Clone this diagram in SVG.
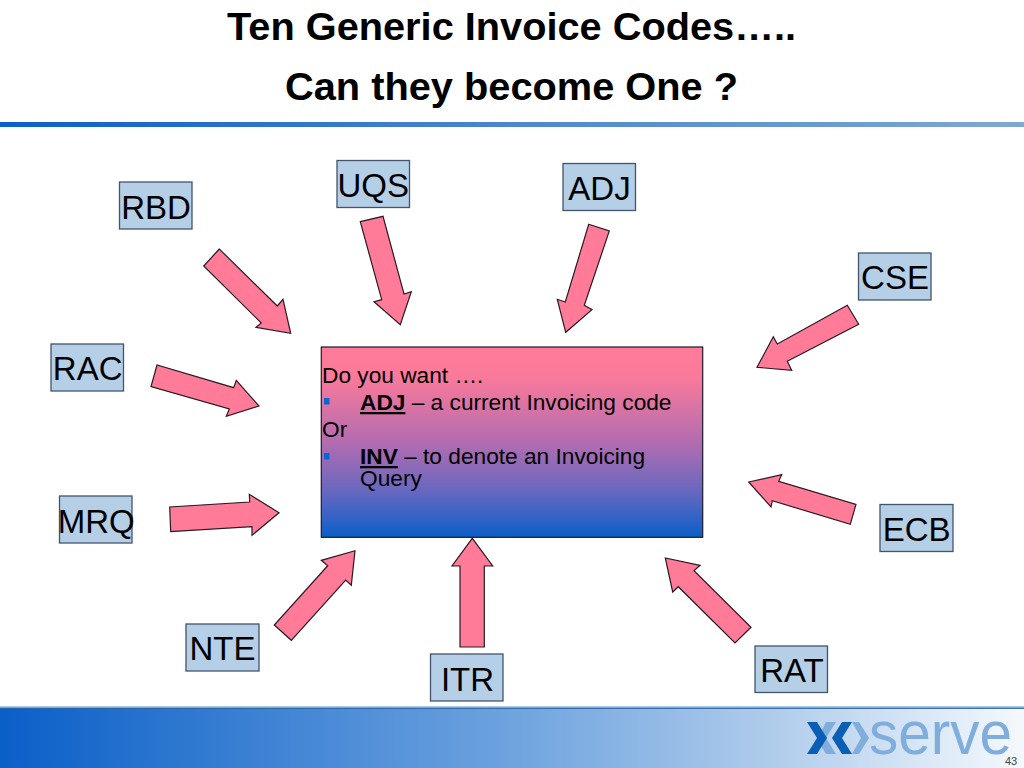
<svg xmlns="http://www.w3.org/2000/svg" width="1024" height="768" viewBox="0 0 1024 768">
<style>
text{font-family:"Liberation Sans",Arial,sans-serif;fill:#000}
.t{font-size:39px;font-weight:bold}
.b rect{fill:#b5cfe6;stroke:#44546a;stroke-width:1.3}
.b text{font-size:33px;text-anchor:middle}
.a polygon{fill:#ff7b98;stroke:#2a1a22;stroke-width:1.2;stroke-linejoin:miter}
.m{font-size:22.7px}
.bu{fill:#0a66d0}
.ld{fill:#0a5fb4}
.ll{fill:#80aedc}
</style>
<defs>
<linearGradient id="rule" x1="0" x2="1" y1="0" y2="0"><stop offset="0" stop-color="#0a5fc8"/><stop offset="0.5" stop-color="#4d87cc"/><stop offset="1" stop-color="#7fa9cf"/></linearGradient>
<linearGradient id="foot" x1="0" x2="1" y1="0" y2="0"><stop offset="0" stop-color="#0a5fc8"/><stop offset="0.5" stop-color="#6ea3df"/><stop offset="0.75" stop-color="#aecbeb"/><stop offset="1" stop-color="#f5f9fd"/></linearGradient>
<linearGradient id="core" x1="0" x2="0" y1="0" y2="1"><stop offset="0" stop-color="#ff7b98"/><stop offset="0.15" stop-color="#fb7a9a"/><stop offset="0.5" stop-color="#b36cb0"/><stop offset="0.75" stop-color="#6a68c0"/><stop offset="1" stop-color="#0a5fc8"/></linearGradient>
</defs>
<rect width="1024" height="768" fill="#fff"/>
<g id="title">
<text class="t" x="227" y="40" textLength="569" lengthAdjust="spacingAndGlyphs">Ten Generic Invoice Codes…..</text>
<text class="t" x="285" y="100" textLength="453" lengthAdjust="spacingAndGlyphs">Can they become One ?</text>
</g>
<rect id="title-rule" x="0" y="122" width="1024" height="5" fill="url(#rule)"/>
<g id="footer">
<rect x="0" y="706" width="1024" height="2" fill="#a9c9ea"/>
<rect x="0" y="708" width="1024" height="60" fill="url(#foot)"/>
<rect x="0" y="707.7" width="1024" height="1.2" fill="#2f659f"/>
<polygon class="ll" points="826,722 836,722 826,738 836,754 826,754 821,746 822,730"/>
<polygon class="ld" points="807,722 817,722 827,738 817,754 807,754 817,738"/>
<polygon class="ld" points="842,722 852,722 842,738 852,754 842,754 832,738"/>
<polygon class="ll" points="852,722 859,722 869,738 859,754 852,754 861,738"/>
<text id="logo-word" x="869" y="754" font-size="61" textLength="143" lengthAdjust="spacingAndGlyphs" style="fill:#80aedc">serve</text>
<text x="1005" y="765" font-size="11" style="fill:#444">43</text>
</g>
<g id="connectors" class="a">
<polygon points="219.3,249 203.7,266 261.3,323 256,327.3 290.7,333.3 283,299.3 277.3,306"/>
<polygon points="360.3,221.7 383,216.3 404,294 411.3,291.7 400.3,324.7 374,301.7 381.7,299.7"/>
<polygon points="588.7,224.3 609.3,231 584.3,305.3 592,309.7 565.7,332.3 557.3,299.3 565.3,302"/>
<polygon points="847.3,305.3 858.7,324.3 787.3,361.3 791.7,370.3 757,367.3 773.3,336.7 777.3,344"/>
<polygon points="157,365 151,386.7 229.3,409 226.3,416.3 259,406 236.3,380.3 233.7,387.7"/>
<polygon points="169.7,507 170.7,531.7 252,526.7 252,535.3 279,512.7 249.3,494.3 249.7,502"/>
<polygon points="274.3,625 291.3,640.3 345.7,580 351.3,585.3 355,550.7 321.3,560.3 327.7,565.7"/>
<polygon points="460,647 484.3,647 484.3,566 492.7,566 472.3,538.3 452,566 460,566"/>
<polygon points="856,504.3 850.3,524.3 772.3,500.7 771,507 748.7,482 781.7,474.7 778.7,481.3"/>
<polygon points="751,627.3 735,643 678.3,586.7 672.7,592 665.3,558 700,565.3 694,570.7"/>
</g>
<g id="node-core">
<rect x="321.3" y="347" width="381.4" height="190.3" fill="url(#core)" stroke="#1a1a2a" stroke-width="1.2"/>
<text class="m" x="322" y="383">Do you want ….</text>
<rect class="bu" x="324" y="398" width="5.5" height="6.5"/>
<text class="m" x="360" y="410"><tspan font-weight="bold" text-decoration="underline">ADJ</tspan> – a current Invoicing code</text>
<text class="m" x="322" y="437">Or</text>
<rect class="bu" x="324" y="453" width="5.5" height="6.5"/>
<text class="m" x="360" y="464"><tspan font-weight="bold" text-decoration="underline">INV</tspan> – to denote an Invoicing</text>
<text class="m" x="360" y="486">Query</text>
</g>
<g id="node-rbd" class="b"><rect x="119.5" y="182" width="72.5" height="47"/><text x="156" y="218.5">RBD</text></g>
<g id="node-uqs" class="b"><rect x="337" y="160.5" width="72.5" height="47"/><text x="373.3" y="196.7">UQS</text></g>
<g id="node-adj" class="b"><rect x="563" y="163.5" width="72.5" height="47"/><text x="599.5" y="199.5">ADJ</text></g>
<g id="node-cse" class="b"><rect x="858.5" y="253" width="72.5" height="47"/><text x="895" y="289">CSE</text></g>
<g id="node-rac" class="b"><rect x="51" y="344" width="72.5" height="47"/><text x="87.7" y="380">RAC</text></g>
<g id="node-mrq" class="b"><rect x="59.5" y="496" width="72.5" height="47"/><text x="96.3" y="533">MRQ</text></g>
<g id="node-nte" class="b"><rect x="186" y="624" width="73" height="47"/><text x="222.5" y="660">NTE</text></g>
<g id="node-itr" class="b"><rect x="430.5" y="654" width="72.5" height="47"/><text x="467.5" y="690.7">ITR</text></g>
<g id="node-ecb" class="b"><rect x="880" y="504.5" width="73" height="47"/><text x="916.7" y="541">ECB</text></g>
<g id="node-rat" class="b"><rect x="755" y="646" width="72.5" height="46.5"/><text x="792" y="681.7">RAT</text></g>
</svg>
